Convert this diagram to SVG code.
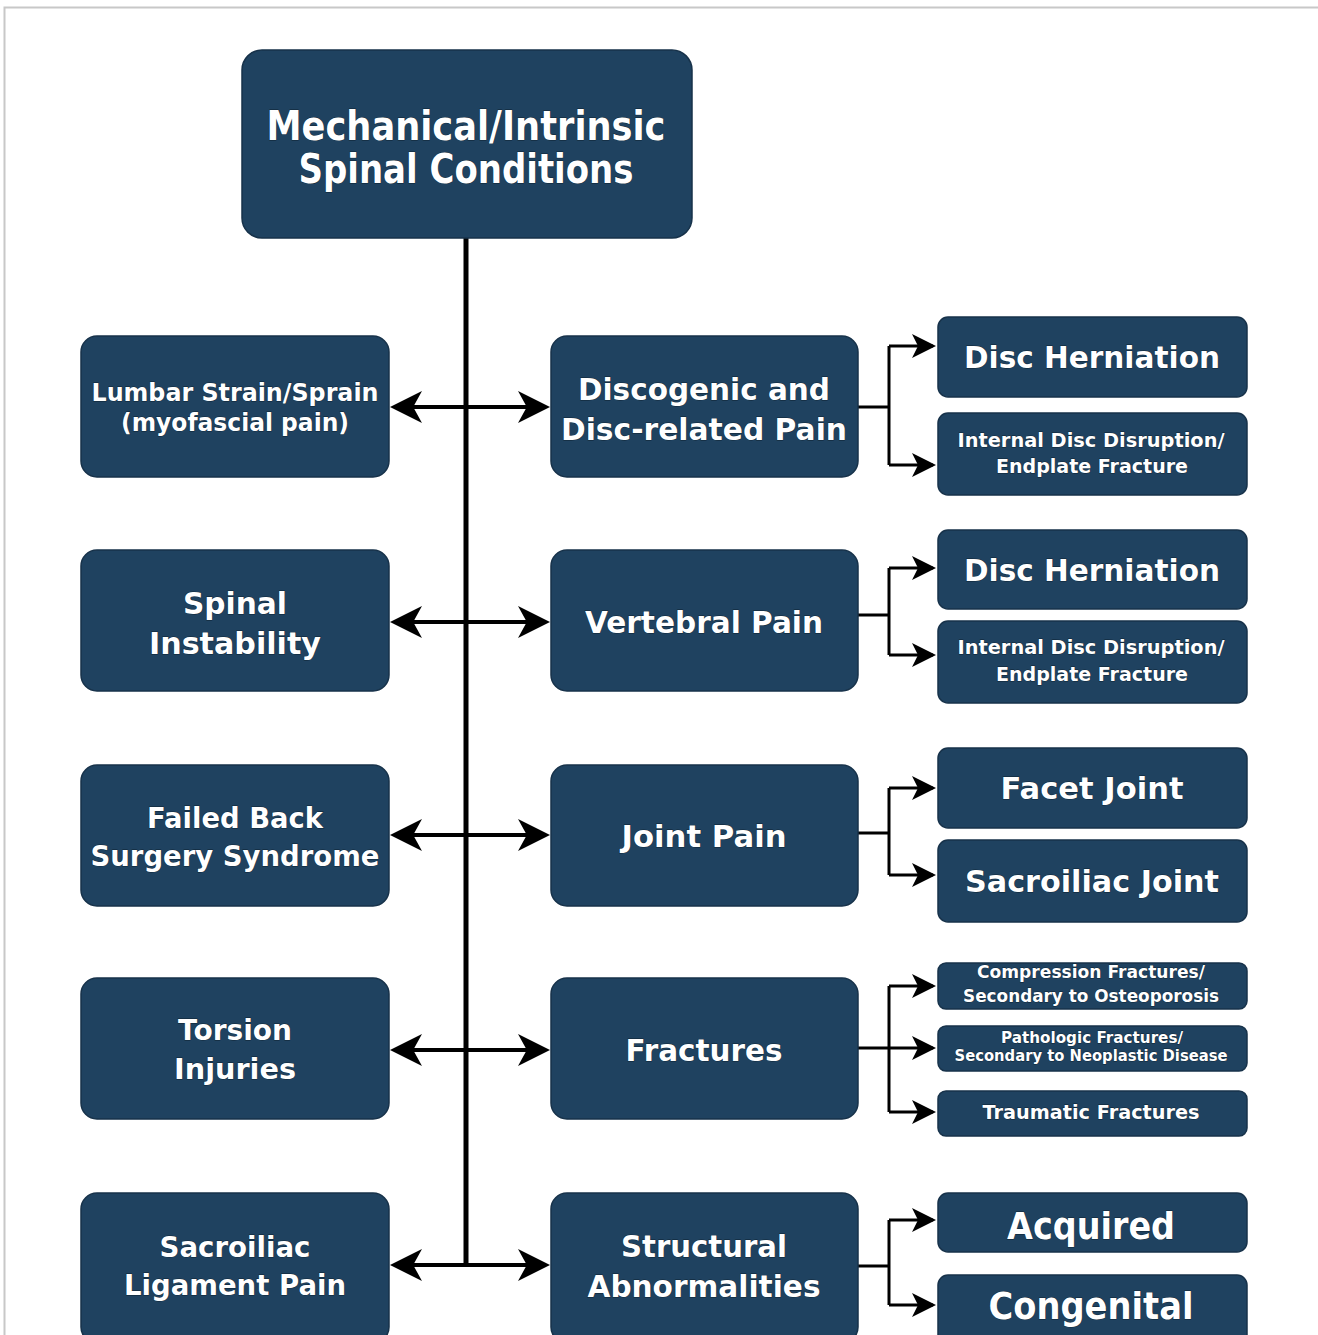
<svg xmlns="http://www.w3.org/2000/svg" width="1318" height="1335" viewBox="0 0 1318 1335">
<style>
.n{fill:#1f4260;stroke:#17324a;stroke-width:1.5}
.t{font-family:"DejaVu Sans","Verdana",sans-serif;font-weight:bold;fill:#ffffff;text-anchor:middle;stroke:#0e2233;stroke-width:0.8;paint-order:stroke}
.trunk{stroke:#000;stroke-width:5;fill:none}
.h{stroke:#000;stroke-width:4;fill:none}
.b{stroke:#000;stroke-width:3;fill:none}
</style>
<defs>
<marker id="big" markerWidth="9" markerHeight="9" refX="7" refY="4" orient="auto-start-reverse" markerUnits="strokeWidth">
<path d="M0,0 L8,4 L0,8 L2.2,4 Z" fill="#000"/>
</marker>
<marker id="sm" markerWidth="9" markerHeight="9" refX="7" refY="4" orient="auto" markerUnits="strokeWidth">
<path d="M0,0 L8,4 L0,8 L2,4 Z" fill="#000"/>
</marker>
</defs>
<rect x="0" y="0" width="1318" height="1335" fill="#fff"/>
<path d="M4.5,1335 V7.5 H1318" stroke="#c8c8c8" stroke-width="2" fill="none"/>

<g id="connectors">
<path class="trunk" d="M466,238 V1267"/>
<path class="h" d="M464,407 H394" marker-end="url(#big)"/>
<path class="h" d="M468,407 H546" marker-end="url(#big)"/>
<path class="h" d="M464,622 H394" marker-end="url(#big)"/>
<path class="h" d="M468,622 H546" marker-end="url(#big)"/>
<path class="h" d="M464,835 H394" marker-end="url(#big)"/>
<path class="h" d="M468,835 H546" marker-end="url(#big)"/>
<path class="h" d="M464,1050 H394" marker-end="url(#big)"/>
<path class="h" d="M468,1050 H546" marker-end="url(#big)"/>
<path class="h" d="M464,1265 H394" marker-end="url(#big)"/>
<path class="h" d="M468,1265 H546" marker-end="url(#big)"/>

<path class="b" d="M858,407 H889 M889,346 V465"/>
<path class="b" d="M889,346 H933" marker-end="url(#sm)"/>
<path class="b" d="M889,465 H933" marker-end="url(#sm)"/>

<path class="b" d="M858,615 H889 M889,568 V655"/>
<path class="b" d="M889,568 H933" marker-end="url(#sm)"/>
<path class="b" d="M889,655 H933" marker-end="url(#sm)"/>

<path class="b" d="M858,833 H889 M889,788 V875"/>
<path class="b" d="M889,788 H933" marker-end="url(#sm)"/>
<path class="b" d="M889,875 H933" marker-end="url(#sm)"/>

<path class="b" d="M858,1048 H889 M889,986 V1112"/>
<path class="b" d="M889,986 H933" marker-end="url(#sm)"/>
<path class="b" d="M889,1048 H933" marker-end="url(#sm)"/>
<path class="b" d="M889,1112 H933" marker-end="url(#sm)"/>

<path class="b" d="M858,1266 H889 M889,1220 V1305"/>
<path class="b" d="M889,1220 H933" marker-end="url(#sm)"/>
<path class="b" d="M889,1305 H933" marker-end="url(#sm)"/>
</g>

<g id="root">
<rect class="n" x="242" y="50" width="450" height="188" rx="20"/>
<text class="t" font-size="40" x="466" y="140" textLength="399" lengthAdjust="spacingAndGlyphs">Mechanical/Intrinsic</text>
<text class="t" font-size="40" x="466" y="183" textLength="335" lengthAdjust="spacingAndGlyphs">Spinal Conditions</text>
</g>

<g id="lumbar">
<rect class="n" x="81" y="336" width="308" height="141" rx="16"/>
<text class="t" font-size="24" x="235" y="401" textLength="287" lengthAdjust="spacingAndGlyphs">Lumbar Strain/Sprain</text>
<text class="t" font-size="24" x="235" y="431" textLength="228" lengthAdjust="spacingAndGlyphs">(myofascial pain)</text>
</g>
<g id="instability">
<rect class="n" x="81" y="550" width="308" height="141" rx="16"/>
<text class="t" font-size="31" x="235" y="614" textLength="104" lengthAdjust="spacingAndGlyphs">Spinal</text>
<text class="t" font-size="31" x="235" y="654" textLength="172" lengthAdjust="spacingAndGlyphs">Instability</text>
</g>
<g id="failed">
<rect class="n" x="81" y="765" width="308" height="141" rx="16"/>
<text class="t" font-size="28" x="235" y="828" textLength="176" lengthAdjust="spacingAndGlyphs">Failed Back</text>
<text class="t" font-size="28" x="235" y="866" textLength="289" lengthAdjust="spacingAndGlyphs">Surgery Syndrome</text>
</g>
<g id="torsion">
<rect class="n" x="81" y="978" width="308" height="141" rx="16"/>
<text class="t" font-size="29" x="235" y="1040" textLength="114" lengthAdjust="spacingAndGlyphs">Torsion</text>
<text class="t" font-size="29" x="235" y="1079" textLength="122" lengthAdjust="spacingAndGlyphs">Injuries</text>
</g>
<g id="siligament">
<rect class="n" x="81" y="1193" width="308" height="150" rx="16"/>
<text class="t" font-size="29" x="235" y="1257" textLength="151" lengthAdjust="spacingAndGlyphs">Sacroiliac</text>
<text class="t" font-size="29" x="235" y="1295" textLength="222" lengthAdjust="spacingAndGlyphs">Ligament Pain</text>
</g>

<g id="discogenic">
<rect class="n" x="551" y="336" width="307" height="141" rx="16"/>
<text class="t" font-size="31" x="704" y="400" textLength="252" lengthAdjust="spacingAndGlyphs">Discogenic and</text>
<text class="t" font-size="31" x="704" y="440" textLength="286" lengthAdjust="spacingAndGlyphs">Disc-related Pain</text>
</g>
<g id="vertebral">
<rect class="n" x="551" y="550" width="307" height="141" rx="16"/>
<text class="t" font-size="31" x="704" y="633" textLength="238" lengthAdjust="spacingAndGlyphs">Vertebral Pain</text>
</g>
<g id="joint">
<rect class="n" x="551" y="765" width="307" height="141" rx="16"/>
<text class="t" font-size="31" x="704" y="847" textLength="165" lengthAdjust="spacingAndGlyphs">Joint Pain</text>
</g>
<g id="fractures">
<rect class="n" x="551" y="978" width="307" height="141" rx="16"/>
<text class="t" font-size="31" x="704" y="1061" textLength="157" lengthAdjust="spacingAndGlyphs">Fractures</text>
</g>
<g id="structural">
<rect class="n" x="551" y="1193" width="307" height="150" rx="16"/>
<text class="t" font-size="31" x="704" y="1257" textLength="166" lengthAdjust="spacingAndGlyphs">Structural</text>
<text class="t" font-size="31" x="704" y="1297" textLength="233" lengthAdjust="spacingAndGlyphs">Abnormalities</text>
</g>

<g id="herniation1">
<rect class="n" x="938" y="317" width="309" height="80" rx="10"/>
<text class="t" font-size="31" x="1092" y="368" textLength="256" lengthAdjust="spacingAndGlyphs">Disc Herniation</text>
</g>
<g id="internal1">
<rect class="n" x="938" y="413" width="309" height="82" rx="10"/>
<text class="t" font-size="20" x="1091" y="447" textLength="267" lengthAdjust="spacingAndGlyphs">Internal Disc Disruption/</text>
<text class="t" font-size="20" x="1092" y="473" textLength="192" lengthAdjust="spacingAndGlyphs">Endplate Fracture</text>
</g>
<g id="herniation2">
<rect class="n" x="938" y="530" width="309" height="79" rx="10"/>
<text class="t" font-size="31" x="1092" y="581" textLength="256" lengthAdjust="spacingAndGlyphs">Disc Herniation</text>
</g>
<g id="internal2">
<rect class="n" x="938" y="621" width="309" height="82" rx="10"/>
<text class="t" font-size="20" x="1091" y="654" textLength="267" lengthAdjust="spacingAndGlyphs">Internal Disc Disruption/</text>
<text class="t" font-size="20" x="1092" y="681" textLength="192" lengthAdjust="spacingAndGlyphs">Endplate Fracture</text>
</g>
<g id="facet">
<rect class="n" x="938" y="748" width="309" height="80" rx="10"/>
<text class="t" font-size="31" x="1092" y="799" textLength="183" lengthAdjust="spacingAndGlyphs">Facet Joint</text>
</g>
<g id="sijoint">
<rect class="n" x="938" y="840" width="309" height="82" rx="10"/>
<text class="t" font-size="31" x="1092" y="892" textLength="254" lengthAdjust="spacingAndGlyphs">Sacroiliac Joint</text>
</g>
<g id="compression">
<rect class="n" x="938" y="963" width="309" height="46" rx="8"/>
<text class="t" font-size="17" x="1091" y="978" textLength="228" lengthAdjust="spacingAndGlyphs">Compression Fractures/</text>
<text class="t" font-size="17" x="1091" y="1002" textLength="256" lengthAdjust="spacingAndGlyphs">Secondary to Osteoporosis</text>
</g>
<g id="pathologic">
<rect class="n" x="938" y="1026" width="309" height="45" rx="8"/>
<text class="t" font-size="15" x="1092" y="1043" textLength="182" lengthAdjust="spacingAndGlyphs">Pathologic Fractures/</text>
<text class="t" font-size="15" x="1091" y="1061" textLength="273" lengthAdjust="spacingAndGlyphs">Secondary to Neoplastic Disease</text>
</g>
<g id="traumatic">
<rect class="n" x="938" y="1091" width="309" height="45" rx="8"/>
<text class="t" font-size="20" x="1091" y="1119" textLength="217" lengthAdjust="spacingAndGlyphs">Traumatic Fractures</text>
</g>
<g id="acquired">
<rect class="n" x="938" y="1193" width="309" height="59" rx="10"/>
<text class="t" font-size="38" x="1091" y="1239" textLength="168" lengthAdjust="spacingAndGlyphs">Acquired</text>
</g>
<g id="congenital">
<rect class="n" x="938" y="1275" width="309" height="70" rx="10"/>
<text class="t" font-size="38" x="1091" y="1319" textLength="205" lengthAdjust="spacingAndGlyphs">Congenital</text>
</g>
</svg>
